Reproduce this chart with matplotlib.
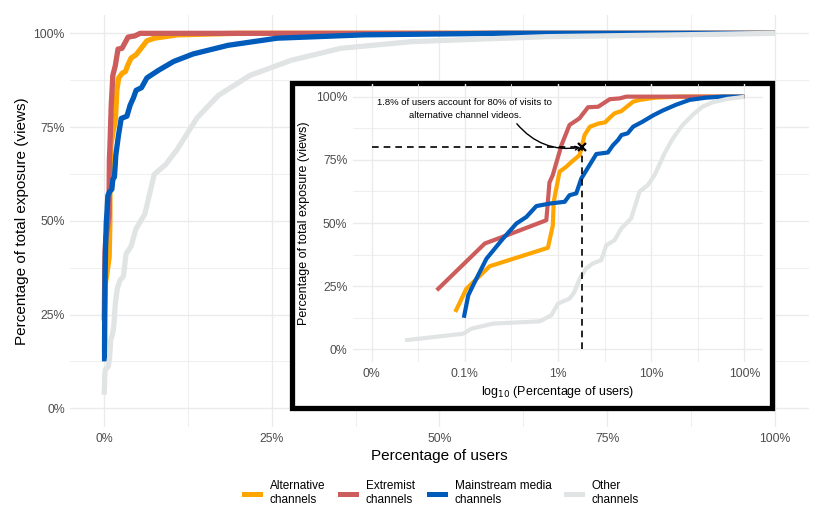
import numpy as np
import matplotlib
matplotlib.use("Agg")
import matplotlib.pyplot as plt
from matplotlib.patches import Rectangle
from matplotlib.lines import Line2D

plt.rcParams['font.family'] = ['Liberation Sans', 'DejaVu Sans']

# cumulative share of exposure (%) against share of users (%), users sorted by exposure
alt_users = [0.079, 0.104, 0.185, 0.78, 0.88, 0.9, 1.04, 1.23, 1.4, 1.71, 1.8, 1.93, 2.2,
             2.75, 3.2, 3.6, 4.05, 4.8, 6.4, 7.5, 11, 20, 100]
alt_expo = [14.8, 24, 32.9, 40.2, 49, 58.4, 70.3, 72.3, 74.2, 76.9, 80.2, 84.8, 88.1,
            89.4, 89.8, 91.7, 93.4, 94.3, 98, 98.7, 99.6, 100, 100]

ext_users = [0.05, 0.164, 0.3, 0.75, 0.81, 0.88, 1.09, 1.33, 1.7, 2.1, 2.7, 3.6, 4.6, 5.4, 100]
ext_expo = [23.4, 41.9, 45.5, 51.1, 66, 69, 80.8, 88.8, 91.4, 95.8, 96, 99, 99.3, 100, 100]

ms_users = [0.0976, 0.109, 0.128, 0.171, 0.258, 0.358, 0.458, 0.586, 0.815, 1.18, 1.33,
            1.57, 1.78, 2.18, 2.58, 3.43, 3.9, 4.4, 4.8, 5.6, 6.4, 8.1, 10.4, 13.3, 18.5,
            25.8, 38.9, 58.9, 100]
ms_expo = [12.5, 21.4, 26.7, 35.9, 43.9, 49.8, 52.4, 56.7, 57.7, 58.4, 61, 61.7, 67.6,
           72.9, 77.3, 77.9, 80.8, 82.8, 84.8, 85.5, 88.1, 90.1, 92.5, 94.5, 96.8, 98.7,
           99.6, 100, 100]

oth_users = [0.0228, 0.096, 0.118, 0.201, 0.637, 0.849, 1.0, 1.33, 1.5, 1.71, 2.0, 2.37,
             2.91, 3.3, 4.05, 4.77, 6.1, 7.5, 9.2, 10.9, 13.9, 17.1, 21.8, 27.9, 35.3,
             46, 65.9, 85.8, 100]
oth_expo = [3.6, 6.2, 8.2, 10.2, 11.1, 13.5, 18.1, 20.1, 22.7, 28, 32, 34, 35.3, 41.2,
            43.2, 47.8, 51.8, 62.4, 65, 69, 77.5, 83.5, 88.8, 92.8, 96, 97.8, 99.1,
            99.6, 100]

series = [
    ("Alternative\nchannels", alt_users, alt_expo, "#FFA500"),
    ("Extremist\nchannels", ext_users, ext_expo, "#CD5C5C"),
    ("Mainstream media\nchannels", ms_users, ms_expo, "#005BBB"),
    ("Other\nchannels", oth_users, oth_expo, "#E1E4E4"),
]

# highlighted point
hl_users = 1.8
hl_expo = 80

grid_col = "#EBEBEB"
tick_col = "#4D4D4D"

fig = plt.figure(figsize=(8.22, 5.32), dpi=100)

# main panel
ax = fig.add_axes([0.0856, 0.1974, 0.898, 0.7752])
for lab, u, e, c in series:
    ax.plot(u, e, color=c, lw=3.8, solid_capstyle='butt', solid_joinstyle='round')
ax.set_xlim(-5, 105)
ax.set_ylim(-5, 105)
ax.set_xticks([0, 25, 50, 75, 100])
ax.set_xticklabels(["0%", "25%", "50%", "75%", "100%"])
ax.set_yticks([0, 25, 50, 75, 100])
ax.set_yticklabels(["0%", "25%", "50%", "75%", "100%"])
ax.set_xticks([12.5, 37.5, 62.5, 87.5], minor=True)
ax.set_yticks([12.5, 37.5, 62.5, 87.5], minor=True)
ax.grid(True, which='major', color=grid_col, lw=1.0)
ax.grid(True, which='minor', color=grid_col, lw=0.6)
ax.set_axisbelow(True)
ax.tick_params(which='both', length=0, labelsize=8.8, labelcolor=tick_col, pad=4)
for s in ax.spines.values():
    s.set_visible(False)
ax.set_xlabel("Percentage of users", fontsize=11, labelpad=3)
ax.set_ylabel("Percentage of total exposure (views)", fontsize=11, labelpad=3)

# inset frame
fig.add_artist(Rectangle((0.3558, 0.234), 0.5839, 0.6109, transform=fig.transFigure,
                         facecolor='white', edgecolor='black', lw=3.8, zorder=1))

# inset panel (log10 of user share)
ins = fig.add_axes([0.4294, 0.3195, 0.4988, 0.5226], zorder=2)
ins.patch.set_alpha(0)
for lab, u, e, c in series:
    ins.plot(np.log10(u), e, color=c, lw=3.0, solid_capstyle='butt', solid_joinstyle='round')
hx = np.log10(hl_users)
ins.plot([-2, hx], [hl_expo, hl_expo], color='black', lw=1.2, ls=(0, (4, 3)))
ins.plot([hx, hx], [0, hl_expo], color='black', lw=1.2, ls=(0, (4, 3)))
ins.plot([hx], [hl_expo], marker='x', color='black', ms=6, mew=1.6)
ins.annotate("1.8% of users account for 80% of visits to\nalternative channel videos.",
             xy=(hx, hl_expo), xytext=(-1.0, 90.8), fontsize=6.8, ha='center', va='bottom',
             linespacing=1.5,
             arrowprops=dict(arrowstyle='->', color='black', lw=1.0, relpos=(0.78, 0),
                             connectionstyle='arc3,rad=0.3', shrinkA=1, shrinkB=1))
ins.set_xlim(-2.2, 2.2)
ins.set_ylim(-5, 105)
ins.set_xticks([-2, -1, 0, 1, 2])
ins.set_xticklabels(["0%", "0.1%", "1%", "10%", "100%"])
ins.set_yticks([0, 25, 50, 75, 100])
ins.set_yticklabels(["0%", "25%", "50%", "75%", "100%"])
ins.set_xticks([-1.5, -0.5, 0.5, 1.5], minor=True)
ins.set_yticks([12.5, 37.5, 62.5, 87.5], minor=True)
ins.grid(True, which='major', color=grid_col, lw=1.0)
ins.grid(True, which='minor', color=grid_col, lw=0.6)
ins.set_axisbelow(True)
ins.tick_params(which='both', length=0, labelsize=8.8, labelcolor=tick_col, pad=4)
for s in ins.spines.values():
    s.set_visible(False)
ins.set_xlabel(r"log$_{10}$ (Percentage of users)", fontsize=9, labelpad=3)
ins.set_ylabel("Percentage of total exposure (views)", fontsize=9, labelpad=4)

# legend
handles = [Line2D([], [], color=c, lw=3.6) for lab, u, e, c in series]
fig.legend(handles, [s[0] for s in series], loc='center', bbox_to_anchor=(0.537, 0.073),
           ncol=4, frameon=False, fontsize=8.5, handlelength=1.4, columnspacing=1.2,
           handletextpad=0.8)

fig.savefig("out.png", dpi=100)
